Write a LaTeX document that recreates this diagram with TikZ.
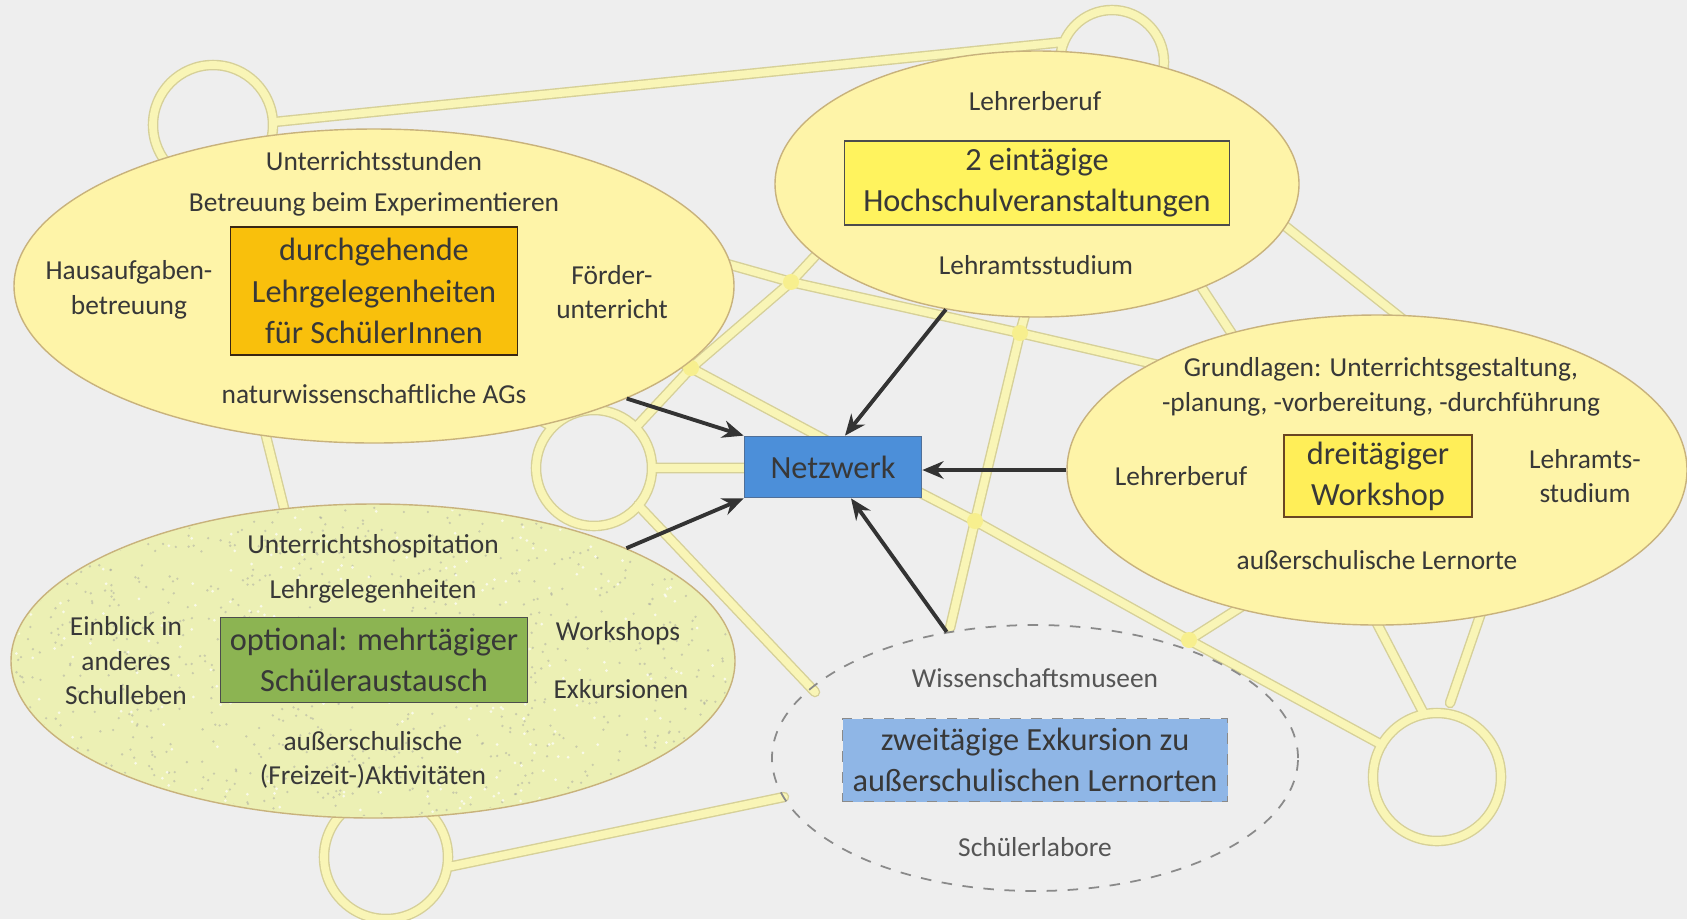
\documentclass[tikz,border=0pt]{standalone}
\usepackage{fontspec}
\setmainfont{Carlito}
\usetikzlibrary{shapes.geometric,arrows.meta,calc}
\definecolor{bg}{HTML}{EEEEEE}
\definecolor{roadedgec}{HTML}{D6D098}
\definecolor{roadfillc}{HTML}{F9F5B6}
\definecolor{juncc}{HTML}{F7EF8E}
\definecolor{ellfill}{HTML}{FEF4A8}
\definecolor{ellborder}{HTML}{C8B27C}
\definecolor{efour}{HTML}{ECF0B4}
\definecolor{txt}{HTML}{383838}
\definecolor{grayfive}{HTML}{555555}
\definecolor{orangebox}{HTML}{F9C00C}
\definecolor{yellowbox}{HTML}{FFF35E}
\definecolor{yellowboxb}{HTML}{FFEE58}
\definecolor{greenbox}{HTML}{8CB452}
\definecolor{bluebox}{HTML}{8FB6E6}
\definecolor{netblue}{HTML}{4C8FD9}
\definecolor{netborder}{HTML}{4F6F98}
\definecolor{dashc}{HTML}{8A8A8A}
\definecolor{arrowc}{HTML}{333333}
\newcommand\myroadnet{
 (274,122) -- (1064,42)
 (LT) circle[radius=60]
 (TC) circle[radius=52]
 (720,262) -- (J0) -- (830,240)
 (J0) -- (J2)
 (J0) -- (J1)
 (J1) -- (655,348)
 (J1) -- (835,445)
 (J1) -- (637,426)
 (CM) circle[radius=58]
 (652,468) -- (750,468)
 (553,427) -- (530,415)
 (638,505) -- (815,692)
 (262,420) -- (287,520)
 (J2) -- (1029,300)
 (J2) -- (1180,370)
 (J2) -- (J3)
 (J3) -- (950,628)
 (915,490) -- (J3) -- (J4)
 (J4) -- (1255,598)
 (J4) -- (1382,745)
 (CBR) circle[radius=64]
 (1424,714) -- (1370,610)
 (1450,703) -- (1482,610)
 (1280,222) -- (1410,325)
 (1200,285) -- (1236,340)
 (CBL) circle[radius=62]
 (448,867) -- (784,797)
}
\begin{document}
\begin{tikzpicture}[x=0.1mm,y=-0.1mm,
  lbl/.style={font=\fontsize{7.8}{9.8}\selectfont, text=txt, align=center, inner sep=0pt},
  bx/.style={font=\fontsize{9.2}{11.7}\selectfont, text=txt, align=center, inner sep=0pt, line width=0.5pt},
  ell/.style={ellipse, inner sep=0pt, fill=ellfill, draw=ellborder, line width=0.4pt},
  roadedge/.style={draw=roadedgec, line width=3.0pt, line cap=round, line join=round},
  roadfill/.style={draw=roadfillc, line width=2.2pt, line cap=round, line join=round},
  arr/.style={draw=arrowc, line width=1.1pt, -{Stealth[length=6pt,width=5pt]}}
]
\useasboundingbox (0,0) rectangle (1687,919);
\fill[bg] (0,0) rectangle (1687,919);
% network of roads
\coordinate (LT) at (213,125);
\coordinate (TC) at (1112,62);
\coordinate (J0) at (791,282);
\coordinate (J1) at (691,368);
\coordinate (J2) at (1020,333);
\coordinate (J3) at (975,521);
\coordinate (J4) at (1189,640);
\coordinate (CM) at (594,468);
\coordinate (CBR) at (1437,777);
\coordinate (CBL) at (386,857);
\draw[roadedge] \myroadnet;
\draw[roadfill] \myroadnet;
\foreach \j in {J0,J1,J2,J3,J4} \fill[juncc] (\j) circle[radius=8];
% ellipses
\node[ell, minimum width=72mm, minimum height=31.4mm] (e1) at (374,286) {};
\node[ell, minimum width=52.4mm, minimum height=26.6mm] (e2) at (1037,184) {};
\node[ell, minimum width=62mm, minimum height=31mm] (e3) at (1377,470) {};
\node[ell, fill=efour, minimum width=72.4mm, minimum height=31.4mm] (e4) at (373,661) {};
\begin{scope}
\clip (373,661) ellipse[x radius=360, y radius=155];
\pgfmathsetseed{7}
\foreach \i in {1,...,900} {
  \fill[gray!75, opacity=0.45] ({13+rnd*720},{506+rnd*310}) circle[radius=1.3];
}
\foreach \i in {1,...,300} {
  \fill[white, opacity=0.7] ({13+rnd*720},{506+rnd*310}) circle[radius=1.5];
}
\end{scope}
\node[ellipse, inner sep=0pt, draw=dashc, dashed, line width=0.5pt, minimum width=52.6mm, minimum height=26.6mm] (e5) at (1035,758) {};
% ellipse 1
\node[lbl] (t11) at (374,161) {Unterrichtsstunden};
\node[lbl] (t12) at (374,204) {Betreuung beim Experimentieren};
\node[bx, fill=orangebox, draw=black!70!brown, minimum width=28.7mm, minimum height=12.8mm] (b1) at (374,291) {durchgehende\\Lehrgelegenheiten\\für SchülerInnen};
\node[lbl] (t13) at (129,290) {Hausaufgaben-\\betreuung};
\node[lbl] (t14) at (612,292) {Förder-\\unterricht};
\node[lbl] (t15) at (374,394) {naturwissenschaftliche AGs};
% ellipse 2
\node[lbl] (t21) at (1035,101) {Lehrerberuf};
\node[bx, fill=yellowbox, draw=black!70, minimum width=38.5mm, minimum height=8.4mm] (b2) at (1037,183) {2 eintägige\\Hochschulveranstaltungen};
\node[lbl] (t22) at (1036,265) {Lehramtsstudium};
% ellipse 3
\node[lbl] (t31) at (1381,387) {Grundlagen: Unterrichtsgestaltung,\\-planung, -vorbereitung, -durchführung};
\node[bx, fill=yellowboxb, draw=black!45!brown, minimum width=18.8mm, minimum height=8.2mm] (b3) at (1378,476) {dreitägiger\\Workshop};
\node[lbl] (t32) at (1181,476) {Lehrerberuf};
\node[lbl] (t33) at (1585,476) {Lehramts-\\studium};
\node[lbl] (t34) at (1377,560) {außerschulische Lernorte};
% ellipse 4
\node[lbl] (t41) at (373,546) {Unterrichtshospitation};
\node[lbl] (t42) at (373,591) {Lehrgelegenheiten};
\node[bx, fill=greenbox, draw=black!70, minimum width=30.7mm, minimum height=8.5mm] (b4) at (374,660) {optional: mehrtägiger\\Schüleraustausch};
\node[lbl] (t43) at (126,661) {Einblick in\\anderes\\Schulleben};
\node[lbl] (t44) at (618,633) {Workshops};
\node[lbl] (t45) at (621,689) {Exkursionen};
\node[lbl] (t46) at (373,760) {außerschulische\\(Freizeit-)Aktivitäten};
% ellipse 5
\node[lbl, text=grayfive] (t51) at (1035,678) {Wissenschaftsmuseen};
\node[bx, fill=bluebox, draw=dashc, dashed, minimum width=38.5mm, minimum height=8.3mm] (b5) at (1035,760) {zweitägige Exkursion zu\\außerschulischen Lernorten};
\node[lbl, text=grayfive] (t52) at (1035,847) {Schülerlabore};
% center
\node[bx, fill=netblue, draw=netborder, minimum width=17.7mm, minimum height=6.1mm] (net) at (833,467) {Netzwerk};
% arrows
\draw[arr] (e1.-24) -- (net.north west);
\draw[arr] (e2.234) -- ($(net.north)+(12,0)$);
\draw[arr] (e3.west) -- (net.east |- e3.west);
\draw[arr] (e4.24) -- (net.south west);
\draw[arr] (e5.125) -- ($(net.south)+(18,0)$);
\end{tikzpicture}
\end{document}
